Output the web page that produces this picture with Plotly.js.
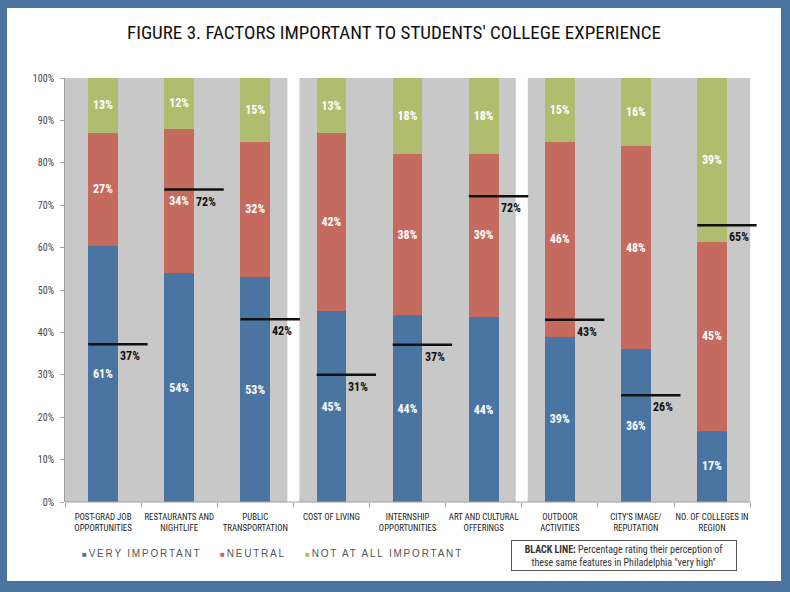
<!DOCTYPE html>
<html>
<head>
<meta charset="utf-8">
<script src="https://cdn.plot.ly/plotly-3.0.1.min.js"></script>
<style>
  html, body { margin: 0; padding: 0; }
  body { width: 790px; height: 592px; background: #4a73a0; position: relative; overflow: hidden; }
  #chart { position: absolute; left: 7px; top: 8px; width: 774px; height: 573px; background: #ffffff; }
  g.annotation[data-index="0"] text,
  g.annotation[data-index="1"] text,
  g.annotation[data-index="2"] text { letter-spacing: 1.8px; }
</style>
</head>
<body>
<div id="chart"></div>
<script>
// ---- data ----
const categories = [
  'POST-GRAD JOB<br>OPPORTUNITIES',
  'RESTAURANTS AND<br>NIGHTLIFE',
  'PUBLIC<br>TRANSPORTATION',
  'COST OF LIVING',
  'INTERNSHIP<br>OPPORTUNITIES',
  'ART AND CULTURAL<br>OFFERINGS',
  'OUTDOOR<br>ACTIVITIES',
  "CITY'S IMAGE/<br>REPUTATION",
  'NO. OF COLLEGES IN<br>REGION'
];
const veryImportant = [61, 54, 53, 45, 44, 44, 39, 36, 17];
const neutral       = [27, 34, 32, 42, 38, 39, 46, 48, 45];
const notAtAll      = [13, 12, 15, 13, 18, 18, 15, 16, 39];
// labelled "very high" perception share
const perceptionVeryHigh = [37, 72, 42, 31, 37, 72, 43, 26, 65];
// height at which each black line is drawn in the picture (%)
const perceptionLineLevel = [37.2, 73.7, 43.1, 30.0, 37.1, 72.1, 43.0, 25.2, 65.3];
const seriesNames = ['VERY IMPORTANT', 'NEUTRAL', 'NOT AT ALL IMPORTANT'];
const yTickValues = [0, 10, 20, 30, 40, 50, 60, 70, 80, 90, 100];
const titleText = "FIGURE 3. FACTORS IMPORTANT TO STUDENTS' COLLEGE EXPERIENCE";
const noteText = '<b>BLACK LINE:</b> Percentage rating their perception of<br>these same features in Philadelphia "very high"';

// ---- styles ----
const NARROW = '"Liberation Sans Narrow", "Arial Narrow", "Roboto Condensed", "DejaVu Sans Condensed", sans-serif';
const SANS = '"Liberation Sans", Arial, sans-serif';
const colors = ['#4a75a2', '#c46a5e', '#b0bd6e'];
const BAR_W = 0.39;
const idx = categories.map((_, i) => i);

const seriesValues = [veryImportant, neutral, notAtAll];
const traces = seriesValues.map((vals, s) => ({
  type: 'bar',
  name: seriesNames[s],
  x: idx,
  y: vals,
  width: BAR_W,
  marker: { color: colors[s], line: { width: 0 } },
  text: vals.map(v => v + '%'),
  textposition: 'inside',
  insidetextanchor: 'middle',
  textangle: 0,
  textfont: { family: NARROW, size: 12, color: '#ffffff', weight: 'bold' },
  hoverinfo: 'name+text',
  showlegend: false
}));

// black perception lines: from bar's left edge to two bar widths
const lx = [], ly = [];
perceptionLineLevel.forEach((v, i) => {
  lx.push(i - BAR_W / 2, i + BAR_W * 1.5, null);
  ly.push(v, v, null);
});
traces.push({
  type: 'scatter', mode: 'lines', x: lx, y: ly,
  line: { color: '#111111', width: 2.5 },
  hoverinfo: 'skip', showlegend: false
});

const annotations = [];
// legend (indices 0..2)
const legendX = [0.0215, 0.2215, 0.3445];
seriesNames.forEach((n, s) => {
  annotations.push({
    xref: 'paper', yref: 'paper', x: legendX[s], y: -0.122,
    xanchor: 'left', yanchor: 'middle', align: 'left', showarrow: false,
    text: '<span style="color:' + colors[s] + ';font-size:8px">■</span>' + n,
    font: { family: SANS, size: 10, color: '#555555' }
  });
});
// perception value labels
perceptionVeryHigh.forEach((v, i) => {
  annotations.push({
    xref: 'x', yref: 'y', x: i + 0.355, y: perceptionLineLevel[i], yshift: -12,
    xanchor: 'center', yanchor: 'middle', showarrow: false,
    text: v + '%',
    font: { family: NARROW, size: 12, color: '#111111', weight: 'bold' }
  });
});
// note box
annotations.push({
  xref: 'paper', yref: 'paper', x: 0.8085, y: -0.125,
  xanchor: 'center', yanchor: 'middle', showarrow: false,
  text: noteText, width: 222, height: 27, borderpad: 1,
  bordercolor: '#555555', borderwidth: 1, bgcolor: '#ffffff',
  font: { family: NARROW, size: 10, color: '#333333' }
});

// gray panels (three groups)
const G = 0.079;
const panels = [[-0.5, 2.5 - G], [2.5 + G, 5.5 - G], [5.5 + G, 8.5]];
const shapes = panels.map(p => ({
  type: 'rect', xref: 'x', yref: 'paper', x0: p[0], x1: p[1], y0: 0, y1: 1,
  fillcolor: '#c8c8c8', line: { width: 0 }, layer: 'below'
}));
shapes.push({
  type: 'line', xref: 'x', yref: 'paper', x0: -0.5, x1: 8.5, y0: 0, y1: 0,
  line: { color: '#a0a0a0', width: 1 }, layer: 'above'
});

const boundaries = [];
for (let i = 0; i <= categories.length; i++) boundaries.push(i - 0.5);

const layout = {
  width: 774, height: 573,
  margin: { l: 58, r: 24, t: 70, b: 79 },
  paper_bgcolor: '#ffffff', plot_bgcolor: '#ffffff',
  barmode: 'stack', barnorm: 'percent',
  showlegend: false,
  title: {
    text: titleText, xref: 'container', yref: 'container',
    x: 0.5, y: 0.958, xanchor: 'center', yanchor: 'middle',
    font: { family: NARROW, size: 19, color: '#111111' }
  },
  xaxis: {
    range: [-0.5, 8.59], fixedrange: true,
    tickmode: 'array', tickvals: idx, ticktext: categories,
    ticks: '', showgrid: false, zeroline: false, showline: false,
    tickfont: { family: NARROW, size: 8.8, color: '#222222' },
    ticklabelstandoff: 8,
    minor: { tickmode: 'array', tickvals: boundaries, ticks: 'outside', ticklen: 4, tickcolor: '#a0a0a0', tickwidth: 1, showgrid: false }
  },
  yaxis: {
    range: [0, 100], fixedrange: true,
    tickmode: 'array', tickvals: yTickValues, ticktext: yTickValues.map(v => v + '%'),
    ticks: 'outside', ticklen: 4, tickcolor: '#a0a0a0',
    showline: true, linecolor: '#a0a0a0', linewidth: 1,
    showgrid: false, zeroline: false, ticklabelstandoff: 4,
    tickfont: { family: NARROW, size: 10, color: '#444444' }
  },
  shapes: shapes,
  annotations: annotations
};

Plotly.newPlot('chart', traces, layout, { displayModeBar: false, staticPlot: true });
</script>
</body>
</html>
